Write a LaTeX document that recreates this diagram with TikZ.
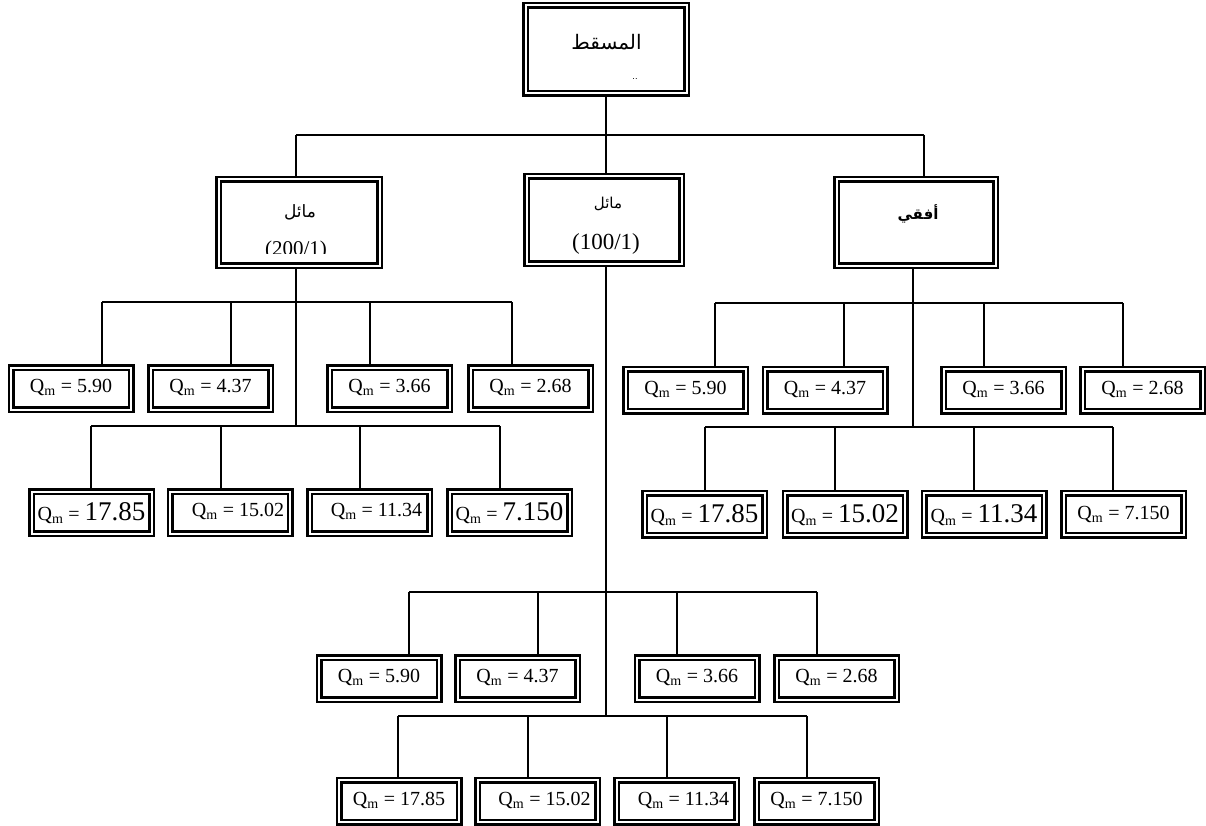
\documentclass[tikz,border=0pt]{standalone}
\usepackage{fontspec}
\setmainfont{Liberation Serif}
\newfontfamily\arabicfont[Script=Arabic]{DejaVu Sans}
\TeXXeTstate=1
\newcommand{\Qm}{Q\textsubscript{m}}
\newcommand{\nsz}{\fontsize{20}{23}\selectfont}
\newcommand{\bsz}{\fontsize{27}{30}\selectfont}
\tikzset{
  dframe/.style={draw, double, line width=2.5pt, double distance=2pt, inner sep=0pt, outer sep=3.5pt},
  qn/.style={dframe, minimum width=120pt, minimum height=42pt, font=\nsz, text height=14pt, text depth=6pt},
  qb/.style={qn, text height=18pt, text depth=2pt},
  conn/.style={line width=1.6pt},
  arab/.style={inner sep=0pt, outer sep=0pt},
  latin/.style={inner sep=0pt, outer sep=0pt},
}
\begin{document}
\begin{tikzpicture}[x=1pt,y=-1pt]
\useasboundingbox (0,0) rectangle (1206,826);

% ---------- level 0 and 1 frames
\node[dframe, minimum width=161pt, minimum height=88pt] (top) at (606,49.5) {};
\node[dframe, minimum width=161pt, minimum height=86pt] (L) at (299,222.5) {};
\node[dframe, minimum width=155pt, minimum height=87pt] (M) at (604,220) {};
\node[dframe, minimum width=159pt, minimum height=86pt] (R) at (916,222.5) {};

% texts of upper frames
\node[arab, font=\arabicfont\fontsize{20}{22}\selectfont] (tTop) at (606.5,42) {\beginR المسقط\endR};
\node[arab, font=\arabicfont\fontsize{8}{9}\selectfont] (tMark) at (635,79.5) {..};
\node[arab, font=\arabicfont\fontsize{17}{19}\selectfont] (tL) at (300,212) {\beginR مائل\endR};
\begin{scope}
  \clip (220,230) rectangle (378,253);
  \node[latin, anchor=base, font=\fontsize{21}{24}\selectfont] (tL2) at (296,255.5) {(200/1)};
\end{scope}
\node[arab, font=\arabicfont\fontsize{15}{17}\selectfont] (tM) at (608,204) {\beginR مائل\endR};
\node[latin, anchor=base, font=\fontsize{23}{26}\selectfont] (tM2) at (606,249) {(100/1)};
\node[arab, font=\arabicfont\bfseries\fontsize{15}{17}\selectfont] (tR) at (918,214) {\beginR أفقي\endR};

% ---------- left group (200/1)
\node[qn] (a1) at (71,388.5) {\Qm{} = 5.90};
\node[qn] (a2) at (210.5,388.5) {\Qm{} = 4.37};
\node[qn] (a3) at (389.5,388.5) {\Qm{} = 3.66};
\node[qn] (a4) at (530.5,388.5) {\Qm{} = 2.68};
\node[qb] (b1) at (91.5,512.5) {\Qm{} = {\bsz 17.85}};
\node[qn] (b2) at (230,512.5) {\hspace*{16pt}\Qm{} = 15.02};
\node[qn] (b3) at (369.5,512.5) {\hspace*{14pt}\Qm{} = 11.34};
\node[qb] (b4) at (509.5,512.5) {\Qm{} = {\bsz 7.150}};

% ---------- right group (horizontal)
\node[qn] (c1) at (685.5,390) {\Qm{} = 5.90};
\node[qn] (c2) at (825,390) {\Qm{} = 4.37};
\node[qn] (c3) at (1003.5,390) {\Qm{} = 3.66};
\node[qn] (c4) at (1142.5,390) {\Qm{} = 2.68};
\node[qb] (d1) at (704.5,514) {\Qm{} = {\bsz 17.85}};
\node[qb] (d2) at (845,514) {\Qm{} = {\bsz 15.02}};
\node[qb] (d3) at (984,514) {\Qm{} = {\bsz 11.34}};
\node[qn, text height=15pt, text depth=5pt] (d4) at (1123.5,514) {\Qm{} = 7.150};

% ---------- bottom group (100/1)
\node[qn] (e1) at (379,678.5) {\Qm{} = 5.90};
\node[qn] (e2) at (517.5,678.5) {\Qm{} = 4.37};
\node[qn] (e3) at (697,678.5) {\Qm{} = 3.66};
\node[qn] (e4) at (836.5,678.5) {\Qm{} = 2.68};
\node[qn] (f1) at (399,801) {\Qm{} = 17.85};
\node[qn] (f2) at (537.5,801) {\hspace*{14pt}\Qm{} = 15.02};
\node[qn] (f3) at (676.5,801) {\hspace*{14pt}\Qm{} = 11.34};
\node[qn] (f4) at (816.5,801) {\Qm{} = 7.150};

% ---------- connectors, top level
\coordinate (j0) at (606,135);
\coordinate (j0L) at (296,135);
\coordinate (j0R) at (924,135);
\draw[conn] (top.south) -- (j0);
\draw[conn] (j0L) -- (j0R);
\draw[conn] (j0L) -- (j0L |- L.north);
\draw[conn] (j0) -- (j0 |- M.north);
\draw[conn] (j0R) -- (j0R |- R.north);

% left group
\coordinate (La1) at (102,302);
\coordinate (La2) at (231,302);
\coordinate (La3) at (370,302);
\coordinate (La4) at (512,302);
\coordinate (Lb1) at (91,426);
\coordinate (Lb2) at (221,426);
\coordinate (Lb3) at (360,426);
\coordinate (Lb4) at (500,426);
\coordinate (Ls) at (296,426);
\draw[conn] (Ls |- L.south) -- (Ls);
\draw[conn] (La1) -- (La4);
\draw[conn] (Lb1) -- (Lb4);
\foreach \i in {1,...,4}{
  \draw[conn] (La\i) -- (La\i |- a\i.north);
  \draw[conn] (Lb\i) -- (Lb\i |- b\i.north);
}

% right group
\coordinate (Ra1) at (715,303);
\coordinate (Ra2) at (844,303);
\coordinate (Ra3) at (984,303);
\coordinate (Ra4) at (1123,303);
\coordinate (Rb1) at (705,427);
\coordinate (Rb2) at (835,427);
\coordinate (Rb3) at (974,427);
\coordinate (Rb4) at (1113,427);
\coordinate (Rs) at (913,427);
\draw[conn] (Rs |- R.south) -- (Rs);
\draw[conn] (Ra1) -- (Ra4);
\draw[conn] (Rb1) -- (Rb4);
\foreach \i in {1,...,4}{
  \draw[conn] (Ra\i) -- (Ra\i |- c\i.north);
  \draw[conn] (Rb\i) -- (Rb\i |- d\i.north);
}

% bottom group
\coordinate (Ba1) at (409,592);
\coordinate (Ba2) at (538,592);
\coordinate (Ba3) at (677,592);
\coordinate (Ba4) at (817,592);
\coordinate (Bb1) at (398,716);
\coordinate (Bb2) at (528,716);
\coordinate (Bb3) at (667,716);
\coordinate (Bb4) at (807,716);
\coordinate (Bs) at (606,716);
\draw[conn] (Bs |- M.south) -- (Bs);
\draw[conn] (Ba1) -- (Ba4);
\draw[conn] (Bb1) -- (Bb4);
\foreach \i in {1,...,4}{
  \draw[conn] (Ba\i) -- (Ba\i |- e\i.north);
  \draw[conn] (Bb\i) -- (Bb\i |- f\i.north);
}
\end{tikzpicture}
\end{document}
